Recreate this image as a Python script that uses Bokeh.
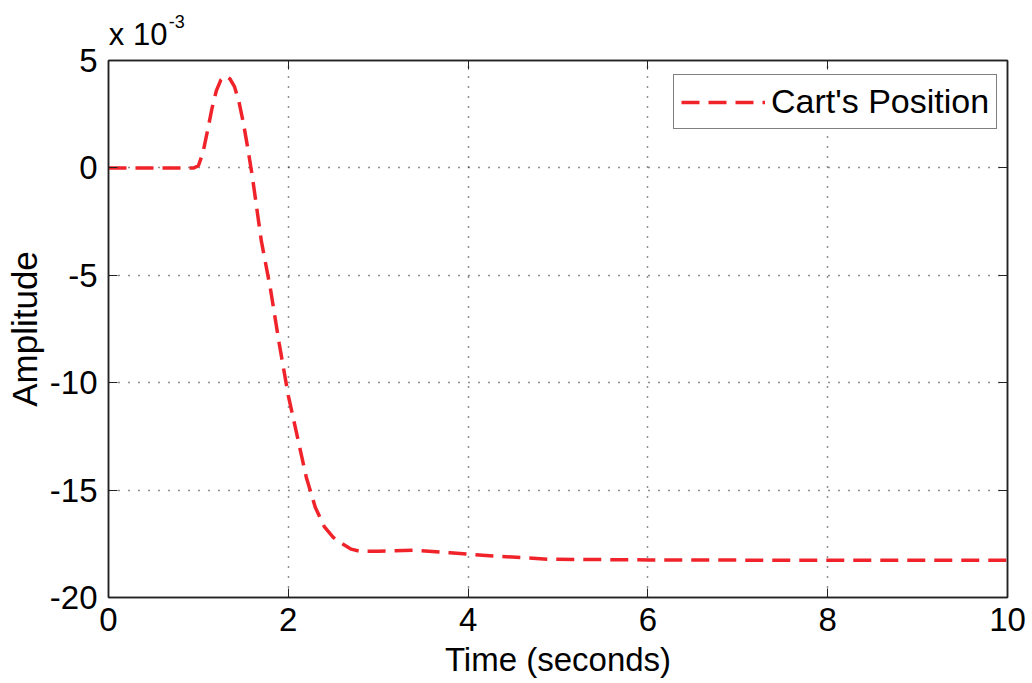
from bokeh.plotting import figure
from bokeh.models import (Range1d, LinearAxis, FixedTicker, Legend, LegendItem,
                          ColumnDataSource, CustomJSTickFormatter)
from bokeh.embed import file_html
from bokeh.resources import INLINE

# Cart position response (amplitude in units of 1e-3)
time_s = [0.0, 0.5, 0.95, 1.0, 1.05, 1.1, 1.15, 1.2, 1.25, 1.3, 1.35, 1.4, 1.45,
          1.5, 1.55, 1.6, 1.65, 1.7, 1.8, 1.9, 2.0, 2.1, 2.2, 2.3, 2.4, 2.5,
          2.6, 2.7, 2.8, 3.0, 3.4, 3.8, 4.3, 4.9, 6.0, 8.0, 10.0]
position_milli = [0.0, 0.0, 0.0, 0.1, 0.7, 1.7, 2.75, 3.6, 4.1, 4.28, 4.15,
                  3.8, 3.1, 2.1, 0.9, -0.4, -1.9, -3.4, -5.6, -8.2, -10.6,
                  -12.5, -14.4, -15.8, -16.7, -17.2, -17.5, -17.75, -17.85,
                  -17.85, -17.8, -17.92, -18.07, -18.22, -18.25, -18.27, -18.27]

x_ticks = [0, 2, 4, 6, 8, 10]
y_ticks = [5, 0, -5, -10, -15, -20]
scale_text = "x 10"
scale_exponent = "-3"

FONT = "Liberation Sans"
FS = "33px"
AXIS_COLOR = "#222222"

p = figure(width=1032, height=683, output_backend="svg", toolbar_location=None,
           x_range=Range1d(0, 10), y_range=Range1d(-20, 5),
           min_border_left=108, min_border_right=25, min_border_top=60,
           min_border_bottom=86, background_fill_color="white",
           border_fill_color="white", outline_line_color=AXIS_COLOR,
           outline_line_width=1.5)

src = ColumnDataSource(dict(t=time_s, y=position_milli))
line = p.line("t", "y", source=src, line_color="#f0222a", line_width=3.5,
              line_dash="18 9")

int_fmt = CustomJSTickFormatter(code="return tick.toFixed(0);")

for ax in (p.xaxis[0], p.yaxis[0]):
    ax.axis_line_color = AXIS_COLOR
    ax.axis_line_width = 1.5
    ax.major_tick_in = 9
    ax.major_tick_out = 0
    ax.minor_tick_line_color = None
    ax.major_tick_line_color = AXIS_COLOR
    ax.major_label_text_font = FONT
    ax.major_label_text_font_size = FS
    ax.major_label_text_color = "black"
    ax.axis_label_text_font = FONT
    ax.axis_label_text_font_style = "normal"
    ax.axis_label_text_color = "black"
    ax.formatter = int_fmt

p.xaxis[0].ticker = FixedTicker(ticks=x_ticks)
p.yaxis[0].ticker = FixedTicker(ticks=y_ticks)
p.xaxis[0].axis_label = "Time (seconds)"
p.yaxis[0].axis_label = "Amplitude"
p.xaxis[0].axis_label_text_font_size = "33px"
p.yaxis[0].axis_label_text_font_size = "35px"
p.xaxis[0].major_label_standoff = 10
p.xaxis[0].axis_label_standoff = 7
p.yaxis[0].major_label_standoff = 11
p.yaxis[0].axis_label_standoff = 3

# box axes on top and right with inward ticks
top_ax = LinearAxis(ticker=FixedTicker(ticks=x_ticks), major_tick_in=9,
                    major_tick_out=0, minor_tick_line_color=None,
                    major_label_text_color=None, axis_line_color=AXIS_COLOR,
                    axis_line_width=1.5, major_tick_line_color=AXIS_COLOR,
                    major_label_text_font_size="0px", major_label_standoff=0)
right_ax = LinearAxis(ticker=FixedTicker(ticks=y_ticks), major_tick_in=9,
                      major_tick_out=0, minor_tick_line_color=None,
                      major_label_text_color=None, axis_line_color=AXIS_COLOR,
                      axis_line_width=1.5, major_tick_line_color=AXIS_COLOR,
                      major_label_text_font_size="0px", major_label_standoff=0)
p.add_layout(top_ax, "above")
p.add_layout(right_ax, "right")


def scale_axis(pos, text, size, standoff):
    """Bare axis above the frame that only carries one piece of text."""
    return LinearAxis(ticker=FixedTicker(ticks=[pos]),
                      formatter=CustomJSTickFormatter(code="return %r;" % text),
                      axis_line_color=None, major_tick_line_color=None,
                      minor_tick_line_color=None, major_tick_in=0,
                      major_tick_out=0, major_label_text_font=FONT,
                      major_label_text_font_size=size,
                      major_label_text_color="black",
                      major_label_standoff=standoff)


# y scale factor "x 10^-3" above the y axis
p.add_layout(scale_axis(0.33, scale_text, "31px", 9), "above")
p.add_layout(scale_axis(0.76, scale_exponent, "18px", -14), "above")

p.xgrid.grid_line_color = AXIS_COLOR
p.ygrid.grid_line_color = AXIS_COLOR
p.xgrid.grid_line_dash = "1 9"
p.ygrid.grid_line_dash = "1 9"
p.xgrid.grid_line_width = 1.5
p.ygrid.grid_line_width = 1.5

legend = Legend(items=[LegendItem(label="Cart's Position", renderers=[line])],
                location=(565, 468), label_text_font=FONT,
                label_text_font_size="34px", label_text_color="black",
                glyph_width=84, glyph_height=30, label_height=30,
                label_standoff=6, padding=7, margin=0,
                border_line_color="black", border_line_width=1.5,
                background_fill_alpha=1.0)
p.add_layout(legend, "center")

open("out.html", "w").write(file_html(p, INLINE))
